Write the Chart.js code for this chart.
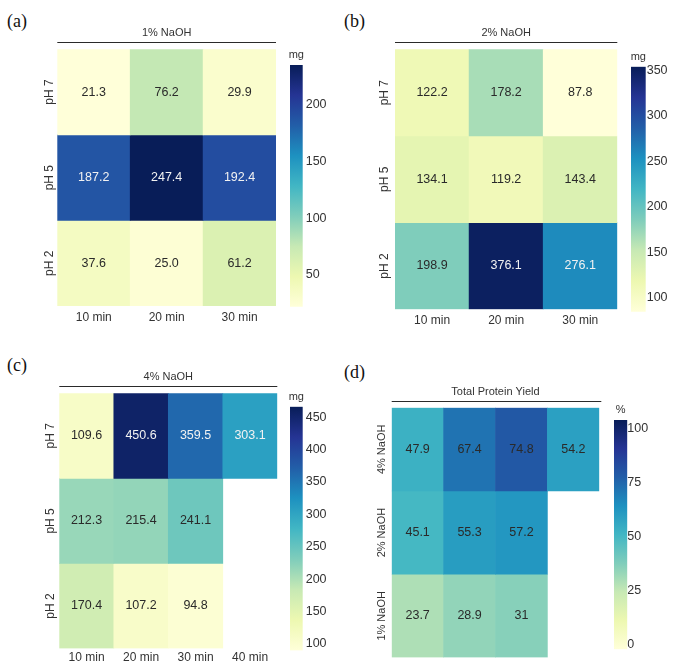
<!DOCTYPE html>
<html>
<head>
<meta charset="utf-8">
<script src="https://cdn.jsdelivr.net/npm/chart.js@4.4.1/dist/chart.umd.min.js"></script>
<style>
  html, body { margin: 0; padding: 0; background: #fff; }
  body { width: 673px; height: 661px; overflow: hidden; position: relative; }
  canvas { position: absolute; }
  .tag { position: absolute; font-family: "Liberation Serif", "Times New Roman", serif; font-size: 18px; color: #111; line-height: 1; }
</style>
</head>
<body>
<div class="tag" style="left:7px;top:12px">(a)</div>
<div class="tag" style="left:344px;top:12px">(b)</div>
<div class="tag" style="left:7px;top:356px">(c)</div>
<div class="tag" style="left:344px;top:363px">(d)</div>

<canvas id="hmA" width="285" height="330" style="left:0;top:0"></canvas>
<canvas id="cbA" width="50" height="330" style="left:285px;top:0"></canvas>
<canvas id="hmB" width="290" height="330" style="left:336px;top:0"></canvas>
<canvas id="cbB" width="47" height="330" style="left:626px;top:0"></canvas>
<canvas id="hmC" width="285" height="331" style="left:0;top:330px"></canvas>
<canvas id="cbC" width="50" height="331" style="left:285px;top:330px"></canvas>
<canvas id="hmD" width="272" height="331" style="left:336px;top:330px"></canvas>
<canvas id="cbD" width="65" height="331" style="left:608px;top:330px"></canvas>

<script>
// ---- categories ----
const minutes3 = ['10 min', '20 min', '30 min'];
const minutes4 = ['10 min', '20 min', '30 min', '40 min'];
const phRows = ['pH 7', 'pH 5', 'pH 2'];
const naohRows = ['4% NaOH', '2% NaOH', '1% NaOH'];

// ---- protein extracted (mg), 1% NaOH ----
const naoh1_pH7 = [21.3, 76.2, 29.9];
const naoh1_pH5 = [187.2, 247.4, 192.4];
const naoh1_pH2 = [37.6, 25.0, 61.2];

// ---- protein extracted (mg), 2% NaOH ----
const naoh2_pH7 = [122.2, 178.2, 87.8];
const naoh2_pH5 = [134.1, 119.2, 143.4];
const naoh2_pH2 = [198.9, 376.1, 276.1];

// ---- protein extracted (mg), 4% NaOH (40 min only at pH 7) ----
const naoh4_pH7 = [109.6, 450.6, 359.5, 303.1];
const naoh4_pH5 = [212.3, 215.4, 241.1, null];
const naoh4_pH2 = [170.4, 107.2, 94.8, null];

// ---- total protein yield (%) ----
const yield4 = [47.9, 67.4, 74.8, 54.2];
const yield2 = [45.1, 55.3, 57.2, null];
const yield1 = [23.7, 28.9, 31, null];

// ---- colour bar axis ranges and ticks ----
const barRangeA = [22, 235];
const barRangeB = [85, 354];
const barRangeC = [90, 466];
const barRangeD = [-2, 104];
const ticksA = [50, 100, 150, 200];
const ticksB = [100, 150, 200, 250, 300, 350];
const ticksC = [100, 150, 200, 250, 300, 350, 400, 450];
const ticksD = [0, 25, 50, 75, 100];

// ---- colour normalisation of the cells ----
const normA = [22, 235];
const normB = [90, 381];
const normC = [88, 462];
const normD = [-8, 100];

const FONT = '"Liberation Sans", Arial, Helvetica, sans-serif';
Chart.defaults.font.family = FONT;
Chart.defaults.color = '#333';

// YlGnBu colour map
const YLGNBU = ['#ffffd9', '#edf8b1', '#c7e9b4', '#7fcdbb', '#41b6c4', '#1d91c0', '#225ea8', '#253494', '#081d58'];
const hexRgb = h => [1, 3, 5].map(i => parseInt(h.slice(i, i + 2), 16));
function cmapRgb(v, lo, hi) {
  let t = (v - lo) / (hi - lo);
  t = Math.max(0, Math.min(1, t));
  const p = t * (YLGNBU.length - 1);
  const i = Math.min(Math.floor(p), YLGNBU.length - 2);
  const f = p - i;
  const a = hexRgb(YLGNBU[i]), b = hexRgb(YLGNBU[i + 1]);
  return a.map((c, k) => Math.round(c + (b[k] - c) * f));
}
const rgbStr = c => `rgb(${c[0]},${c[1]},${c[2]})`;
function luminance(c) {
  const l = c.map(x => { x /= 255; return x <= 0.03928 ? x / 12.92 : Math.pow((x + 0.055) / 1.055, 2.4); });
  return 0.2126 * l[0] + 0.7152 * l[1] + 0.0722 * l[2];
}

// header text with a rule under it
const headerPlugin = {
  id: 'header',
  afterDraw(chart, args, o) {
    const { ctx, chartArea: a } = chart;
    ctx.save();
    ctx.font = `11px ${FONT}`;
    ctx.fillStyle = '#333';
    ctx.textAlign = 'center';
    ctx.textBaseline = 'middle';
    ctx.fillText(o.text, (a.left + a.right) / 2, a.top - o.textGap);
    ctx.strokeStyle = '#2a2a2a';
    ctx.lineWidth = 1.2;
    const y = Math.round(a.top - o.lineGap) + 0.5;
    ctx.beginPath();
    ctx.moveTo(a.left, y);
    ctx.lineTo(a.right + (o.lineExtra || 0), y);
    ctx.stroke();
    ctx.restore();
  }
};

// rotated row labels placed on the y scale
const rowLabelPlugin = {
  id: 'rowLabels',
  afterDraw(chart, args, o) {
    const { ctx, chartArea: a, scales } = chart;
    const n = o.labels.length;
    ctx.save();
    ctx.font = `${o.size}px ${FONT}`;
    ctx.fillStyle = '#333';
    ctx.textAlign = 'center';
    ctx.textBaseline = 'middle';
    o.labels.forEach((lab, r) => {
      const y = scales.y.getPixelForValue(n - r - 0.5);
      ctx.save();
      ctx.translate(a.left - o.gap, y);
      ctx.rotate(-Math.PI / 2);
      ctx.fillText(lab, 0, 0);
      ctx.restore();
    });
    ctx.restore();
  }
};

// value annotation at the centre of each cell
const cellTextPlugin = {
  id: 'cellText',
  afterDatasetsDraw(chart, args, o) {
    const { ctx } = chart;
    ctx.save();
    ctx.font = `${o.size}px ${FONT}`;
    ctx.textAlign = 'center';
    ctx.textBaseline = 'middle';
    chart.data.datasets.forEach((ds, di) => {
      const meta = chart.getDatasetMeta(di);
      ds.values.forEach((v, j) => {
        if (v == null) return;
        const el = meta.data[j];
        const c = cmapRgb(v, o.range[0], o.range[1]);
        ctx.fillStyle = (o.autoText && luminance(c) < 0.35) ? '#f2f2f2' : '#2a2a2a';
        ctx.fillText(o.format(v), el.x, (el.y + el.base) / 2);
      });
    });
    ctx.restore();
  }
};

function heatmap(id, canvasRect, area, cols, rows, rowValues, range, opt) {
  const nRows = rows.length;
  const datasets = rowValues.map((vals, r) => ({
    label: rows[r],
    values: vals,
    data: vals.map(v => (v == null ? null : [nRows - r - 1, nRows - r])),
    backgroundColor: vals.map(v => (v == null ? 'rgba(0,0,0,0)' : rgbStr(cmapRgb(v, range[0], range[1])))),
    borderWidth: 0,
    borderSkipped: false,
    categoryPercentage: 1,
    barPercentage: 1,
    grouped: false
  }));
  const xAxisH = canvasRect.top + canvasRect.height - area.bottom;
  return new Chart(document.getElementById(id), {
    type: 'bar',
    data: { labels: cols, datasets },
    options: {
      responsive: false,
      animation: false,
      events: [],
      layout: {
        padding: {
          left: area.left - canvasRect.left,
          top: area.top - canvasRect.top,
          right: canvasRect.left + canvasRect.width - area.right,
          bottom: 0
        }
      },
      scales: {
        x: {
          type: 'category',
          offset: true,
          grid: { display: false, drawTicks: false },
          border: { display: false },
          ticks: { font: { size: 12 }, color: '#333', padding: opt.xPad, maxRotation: 0, autoSkip: false },
          afterFit(s) { s.height = xAxisH; }
        },
        y: { type: 'linear', min: 0, max: nRows, display: false }
      },
      plugins: {
        legend: { display: false },
        tooltip: { enabled: false },
        title: { display: false },
        header: { text: opt.title, textGap: 16, lineGap: 7, lineExtra: opt.lineExtra || 0 },
        rowLabels: { labels: rows, size: opt.rowSize, gap: opt.rowGap },
        cellText: { size: 12.5, range, format: opt.format, autoText: opt.autoText }
      }
    },
    plugins: [headerPlugin, rowLabelPlugin, cellTextPlugin]
  });
}

// colour bar: one floating bar spanning the range, filled by the colour map
const cbTitlePlugin = {
  id: 'cbTitle',
  afterDraw(chart, args, o) {
    const { ctx, chartArea: a } = chart;
    ctx.save();
    ctx.font = `11px ${FONT}`;
    ctx.fillStyle = '#333';
    ctx.textAlign = 'center';
    ctx.textBaseline = 'middle';
    ctx.fillText(o.text, (a.left + a.right) / 2, a.top - 10);
    ctx.restore();
  }
};

function colorbar(id, canvasRect, area, range, ticks, unit, tickPad) {
  const axisW = canvasRect.left + canvasRect.width - area.right;
  return new Chart(document.getElementById(id), {
    type: 'bar',
    data: {
      labels: [''],
      datasets: [{
        data: [range],
        borderWidth: 0,
        borderSkipped: false,
        categoryPercentage: 1,
        barPercentage: 1,
        backgroundColor(ctx) {
          const chart = ctx.chart;
          if (!chart.chartArea) return YLGNBU[0];
          const y = chart.scales.y;
          const g = chart.ctx.createLinearGradient(0, y.getPixelForValue(range[0]), 0, y.getPixelForValue(range[1]));
          YLGNBU.forEach((c, i) => g.addColorStop(i / (YLGNBU.length - 1), c));
          return g;
        }
      }]
    },
    options: {
      responsive: false,
      animation: false,
      events: [],
      layout: {
        padding: {
          left: area.left - canvasRect.left,
          top: area.top - canvasRect.top,
          right: 0,
          bottom: canvasRect.top + canvasRect.height - area.bottom
        }
      },
      scales: {
        x: { type: 'category', offset: true, display: false },
        y: {
          type: 'linear',
          position: 'right',
          min: range[0],
          max: range[1],
          grid: { display: false, drawTicks: false },
          border: { display: false },
          ticks: { font: { size: 12.5 }, color: '#333', padding: tickPad },
          afterBuildTicks(s) { s.ticks = ticks.map(v => ({ value: v })); },
          afterFit(s) { s.width = axisW; }
        }
      },
      plugins: {
        legend: { display: false },
        tooltip: { enabled: false },
        cbTitle: { text: unit }
      }
    },
    plugins: [cbTitlePlugin]
  });
}

const fmt1 = v => v.toFixed(1);
const fmtRaw = v => String(v);

// (a) 1% NaOH
heatmap('hmA', { left: 0, top: 0, width: 285, height: 330 },
  { left: 57.3, top: 49.3, right: 276, bottom: 306 },
  minutes3, phRows, [naoh1_pH7, naoh1_pH5, naoh1_pH2], normA,
  { title: '1% NaOH', rowSize: 12, rowGap: 8, xPad: 4, format: fmt1, autoText: true });
colorbar('cbA', { left: 285, top: 0, width: 50, height: 330 },
  { left: 290, top: 65, right: 302.7, bottom: 306.7 }, barRangeA, ticksA, 'mg', 3);

// (b) 2% NaOH
heatmap('hmB', { left: 336, top: 0, width: 290, height: 330 },
  { left: 395, top: 49.3, right: 617.3, bottom: 309.3 },
  minutes3, phRows, [naoh2_pH7, naoh2_pH5, naoh2_pH2], normB,
  { title: '2% NaOH', rowSize: 12, rowGap: 10, xPad: 4, format: fmt1, autoText: true });
colorbar('cbB', { left: 626, top: 0, width: 47, height: 330 },
  { left: 631, top: 66.7, right: 645.7, bottom: 311.7 }, barRangeB, ticksB, 'mg', 1);

// (c) 4% NaOH
heatmap('hmC', { left: 0, top: 330, width: 285, height: 331 },
  { left: 59.3, top: 393.3, right: 277.3, bottom: 648.5 },
  minutes4, phRows, [naoh4_pH7, naoh4_pH5, naoh4_pH2], normC,
  { title: '4% NaOH', rowSize: 12, rowGap: 9, xPad: 2, format: fmt1, autoText: true });
colorbar('cbC', { left: 285, top: 330, width: 50, height: 331 },
  { left: 290, top: 406.7, right: 302.7, bottom: 651.7 }, barRangeC, ticksC, 'mg', 3);

// (d) total protein yield
heatmap('hmD', { left: 336, top: 330, width: 272, height: 331 },
  { left: 391.7, top: 407.7, right: 599.3, bottom: 657.5 },
  minutes4, naohRows, [yield4, yield2, yield1], normD,
  { title: 'Total Protein Yield', rowSize: 11, rowGap: 10, xPad: 2, format: fmtRaw, autoText: false, lineExtra: 2 });
colorbar('cbD', { left: 608, top: 330, width: 65, height: 331 },
  { left: 614, top: 420, right: 627.3, bottom: 649.3 }, barRangeD, ticksD, '%', 0);
</script>
</body>
</html>
